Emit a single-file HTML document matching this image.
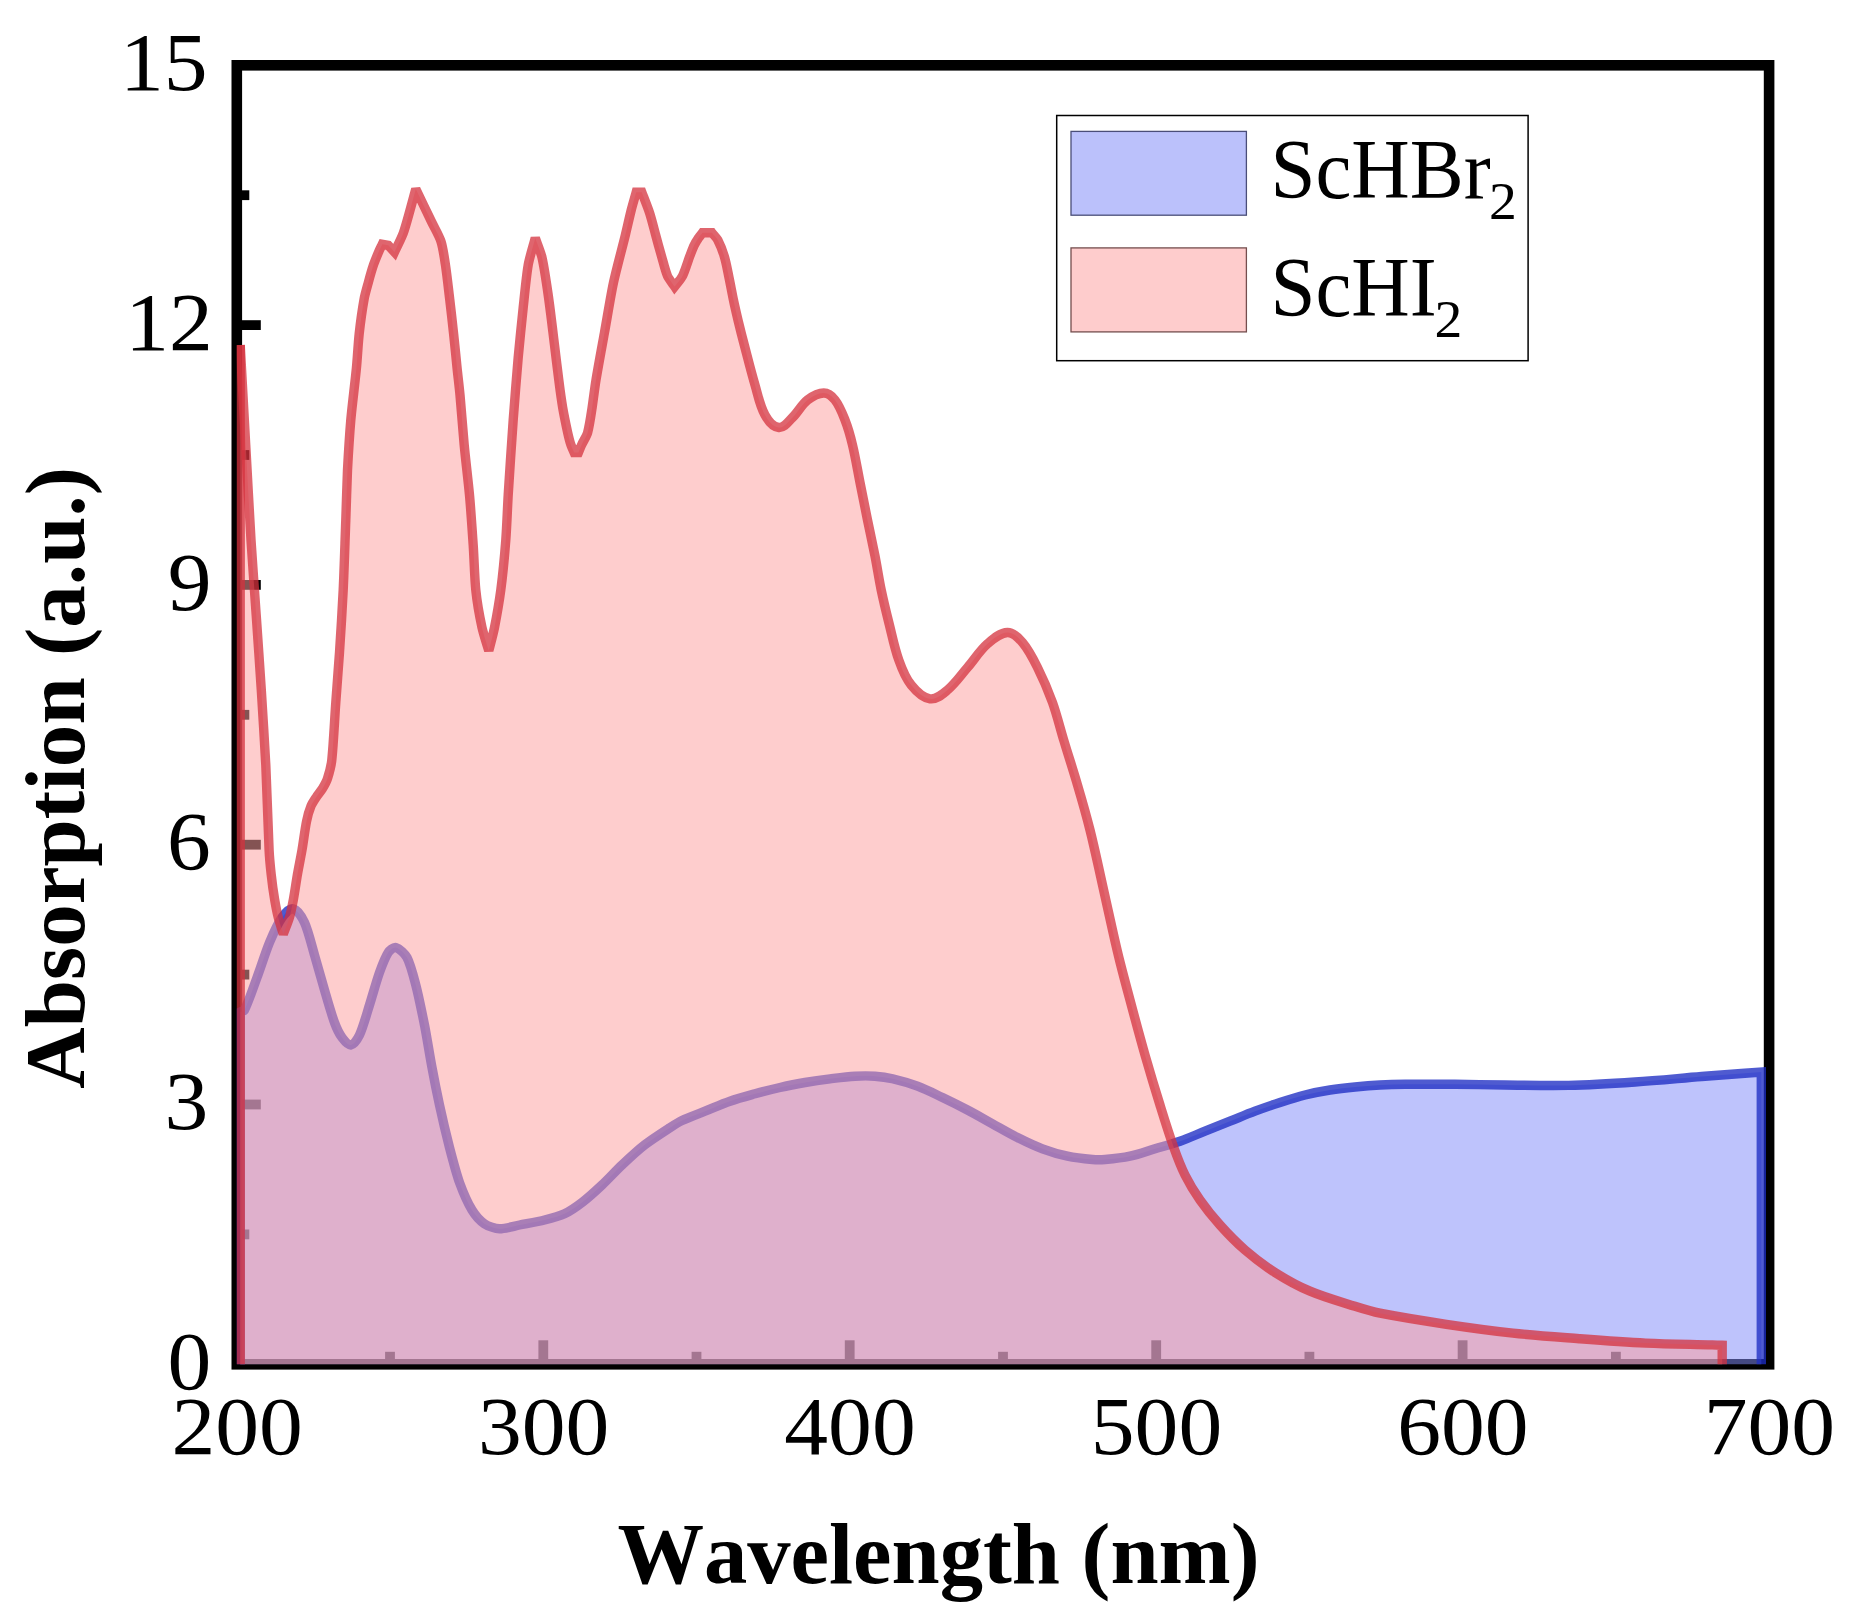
<!DOCTYPE html>
<html lang="en">
<head>
<meta charset="utf-8">
<title>Absorption spectra of ScHBr2 and ScHI2</title>
<style>
html,body{margin:0;padding:0;background:#fff;}
body{width:1851px;height:1624px;overflow:hidden;}
svg{display:block;}
text{font-family:"Liberation Serif","Times New Roman",Times,serif;fill:#000;font-kerning:none;}
.tl text{font-size:83.4px;}
.ttl{font-weight:bold;font-size:86px;}
.lg{font-size:84.3px;}
.sub{font-size:52px;}
</style>
</head>
<body>
<svg width="1851" height="1624" viewBox="0 0 1851 1624">
<defs>
<clipPath id="plot"><rect x="236.8" y="65.3" width="1532.5" height="1299.6"/></clipPath>
</defs>
<rect width="1851" height="1624" fill="#fff"/>
<!-- frame and ticks -->
<rect x="236.8" y="65.3" width="1532.3" height="1299.0" fill="none" stroke="#000" stroke-width="10.6"/>
<g stroke="#000" stroke-width="9.8">
<line x1="236.8" y1="1234.4" x2="249.3" y2="1234.4"/>
<line x1="236.8" y1="1104.5" x2="260.8" y2="1104.5"/>
<line x1="236.8" y1="974.6" x2="249.3" y2="974.6"/>
<line x1="236.8" y1="844.7" x2="260.8" y2="844.7"/>
<line x1="236.8" y1="714.8" x2="249.3" y2="714.8"/>
<line x1="236.8" y1="584.9" x2="260.8" y2="584.9"/>
<line x1="236.8" y1="455.0" x2="249.3" y2="455.0"/>
<line x1="236.8" y1="325.1" x2="260.8" y2="325.1"/>
<line x1="236.8" y1="195.2" x2="249.3" y2="195.2"/>
<line x1="390.0" y1="1364.3" x2="390.0" y2="1351.8"/>
<line x1="543.3" y1="1364.3" x2="543.3" y2="1340.3"/>
<line x1="696.5" y1="1364.3" x2="696.5" y2="1351.8"/>
<line x1="849.7" y1="1364.3" x2="849.7" y2="1340.3"/>
<line x1="1003.0" y1="1364.3" x2="1003.0" y2="1351.8"/>
<line x1="1156.2" y1="1364.3" x2="1156.2" y2="1340.3"/>
<line x1="1309.4" y1="1364.3" x2="1309.4" y2="1351.8"/>
<line x1="1462.6" y1="1364.3" x2="1462.6" y2="1340.3"/>
<line x1="1615.9" y1="1364.3" x2="1615.9" y2="1351.8"/>
</g>
<!-- data -->
<g clip-path="url(#plot)">
<path d="M240.2 1364.3 L240.2 1012.0 C241.3 1011.5 244.0 1011.1 244.5 1010.0 C248.5 1001.9 253.9 986.0 257.0 977.5 C260.4 968.4 265.8 951.4 269.5 942.5 C272.3 935.8 277.8 923.4 282.0 917.5 C284.1 914.5 289.6 908.0 293.2 908.8 C297.7 909.8 302.6 918.3 304.5 922.5 C308.2 930.5 312.0 946.5 314.5 955.0 C317.2 964.1 321.8 980.9 324.5 990.0 C327.0 998.5 331.4 1014.2 334.5 1022.5 C336.0 1026.6 339.4 1034.0 342.0 1037.5 C343.8 1039.9 347.8 1045.4 350.8 1045.0 C354.2 1044.5 358.0 1038.1 359.5 1035.0 C363.0 1027.6 367.0 1012.8 369.5 1005.0 C372.2 996.6 376.5 980.8 379.5 972.5 C381.4 967.2 385.1 957.3 388.2 952.5 C389.5 950.5 393.5 946.9 395.8 947.5 C399.6 948.5 405.2 954.1 407.0 957.5 C410.5 964.1 413.9 977.7 415.8 985.0 C418.5 995.3 422.4 1014.6 424.5 1025.0 C426.7 1036.0 429.9 1056.5 432.0 1067.5 C433.8 1077.3 437.4 1095.3 439.5 1105.0 C441.9 1116.1 446.7 1136.5 449.5 1147.5 C451.9 1156.7 456.3 1173.6 459.5 1182.5 C462.2 1189.9 467.9 1203.3 472.0 1210.0 C474.5 1214.1 480.5 1221.1 484.5 1223.8 C487.9 1226.1 495.4 1228.7 499.5 1228.8 C504.8 1229.0 514.3 1226.0 519.5 1225.0 C526.0 1223.7 538.1 1221.6 544.5 1220.0 C549.8 1218.7 559.6 1216.1 564.5 1213.8 C569.4 1211.5 577.7 1205.8 582.0 1202.5 C587.5 1198.3 597.0 1189.7 602.0 1185.0 C607.4 1180.0 616.6 1170.0 622.0 1165.0 C627.7 1159.6 638.3 1149.8 644.5 1145.0 C650.7 1140.2 662.9 1132.3 669.5 1128.0 C672.7 1125.9 678.6 1122.1 682.0 1120.5 C687.8 1117.7 699.0 1113.6 705.0 1111.2 C713.3 1107.9 721.5 1104.1 730.0 1101.2 C738.2 1098.3 746.6 1096.1 755.0 1093.8 C763.3 1091.5 771.6 1089.4 780.0 1087.5 C788.3 1085.6 796.6 1084.0 805.0 1082.5 C813.3 1081.1 821.6 1079.9 830.0 1078.8 C838.3 1077.8 846.6 1076.7 855.0 1076.2 C861.7 1075.8 868.3 1075.7 875.0 1076.2 C880.9 1076.6 886.8 1077.4 892.5 1078.8 C901.0 1080.8 909.4 1083.2 917.5 1086.2 C926.1 1089.4 934.2 1093.6 942.5 1097.5 C950.9 1101.5 959.3 1105.7 967.5 1110.0 C975.9 1114.4 984.2 1119.2 992.5 1123.8 C1000.8 1128.4 1009.0 1133.3 1017.5 1137.5 C1025.7 1141.6 1033.9 1145.6 1042.5 1148.8 C1050.6 1151.8 1059.0 1154.4 1067.5 1156.2 C1075.7 1158.0 1084.1 1158.8 1092.5 1159.5 C1096.7 1159.9 1100.8 1159.9 1105.0 1159.5 C1113.4 1158.8 1121.8 1158.0 1130.0 1156.2 C1138.5 1154.4 1146.7 1151.3 1155.0 1148.8 C1163.3 1146.3 1171.8 1144.1 1180.0 1141.2 C1188.5 1138.2 1196.7 1134.5 1205.0 1131.2 C1213.3 1127.9 1221.7 1124.5 1230.0 1121.2 C1238.3 1117.9 1246.6 1114.3 1255.0 1111.2 C1263.3 1108.1 1271.6 1105.2 1280.0 1102.5 C1288.3 1099.8 1296.6 1097.1 1305.0 1095.0 C1313.2 1092.9 1321.6 1091.3 1330.0 1090.0 C1338.3 1088.7 1346.6 1087.8 1355.0 1087.0 C1363.3 1086.2 1371.7 1085.5 1380.0 1085.0 C1388.3 1084.6 1396.7 1084.4 1405.0 1084.3 C1421.7 1084.1 1438.3 1084.2 1455.0 1084.3 C1471.7 1084.4 1488.3 1084.8 1505.0 1085.0 C1526.2 1085.2 1547.5 1085.9 1568.7 1085.4 C1590.8 1084.9 1612.9 1083.5 1635.0 1082.0 C1657.2 1080.5 1679.4 1078.3 1701.6 1076.5 C1721.5 1074.9 1741.4 1073.5 1761.3 1072.0 L1761.3 1364.3 Z" fill="rgba(130,140,249,0.52)"/>
<path d="M240.2 1364.3 L240.2 1012.0 C241.3 1011.5 244.0 1011.1 244.5 1010.0 C248.5 1001.9 253.9 986.0 257.0 977.5 C260.4 968.4 265.8 951.4 269.5 942.5 C272.3 935.8 277.8 923.4 282.0 917.5 C284.1 914.5 289.6 908.0 293.2 908.8 C297.7 909.8 302.6 918.3 304.5 922.5 C308.2 930.5 312.0 946.5 314.5 955.0 C317.2 964.1 321.8 980.9 324.5 990.0 C327.0 998.5 331.4 1014.2 334.5 1022.5 C336.0 1026.6 339.4 1034.0 342.0 1037.5 C343.8 1039.9 347.8 1045.4 350.8 1045.0 C354.2 1044.5 358.0 1038.1 359.5 1035.0 C363.0 1027.6 367.0 1012.8 369.5 1005.0 C372.2 996.6 376.5 980.8 379.5 972.5 C381.4 967.2 385.1 957.3 388.2 952.5 C389.5 950.5 393.5 946.9 395.8 947.5 C399.6 948.5 405.2 954.1 407.0 957.5 C410.5 964.1 413.9 977.7 415.8 985.0 C418.5 995.3 422.4 1014.6 424.5 1025.0 C426.7 1036.0 429.9 1056.5 432.0 1067.5 C433.8 1077.3 437.4 1095.3 439.5 1105.0 C441.9 1116.1 446.7 1136.5 449.5 1147.5 C451.9 1156.7 456.3 1173.6 459.5 1182.5 C462.2 1189.9 467.9 1203.3 472.0 1210.0 C474.5 1214.1 480.5 1221.1 484.5 1223.8 C487.9 1226.1 495.4 1228.7 499.5 1228.8 C504.8 1229.0 514.3 1226.0 519.5 1225.0 C526.0 1223.7 538.1 1221.6 544.5 1220.0 C549.8 1218.7 559.6 1216.1 564.5 1213.8 C569.4 1211.5 577.7 1205.8 582.0 1202.5 C587.5 1198.3 597.0 1189.7 602.0 1185.0 C607.4 1180.0 616.6 1170.0 622.0 1165.0 C627.7 1159.6 638.3 1149.8 644.5 1145.0 C650.7 1140.2 662.9 1132.3 669.5 1128.0 C672.7 1125.9 678.6 1122.1 682.0 1120.5 C687.8 1117.7 699.0 1113.6 705.0 1111.2 C713.3 1107.9 721.5 1104.1 730.0 1101.2 C738.2 1098.3 746.6 1096.1 755.0 1093.8 C763.3 1091.5 771.6 1089.4 780.0 1087.5 C788.3 1085.6 796.6 1084.0 805.0 1082.5 C813.3 1081.1 821.6 1079.9 830.0 1078.8 C838.3 1077.8 846.6 1076.7 855.0 1076.2 C861.7 1075.8 868.3 1075.7 875.0 1076.2 C880.9 1076.6 886.8 1077.4 892.5 1078.8 C901.0 1080.8 909.4 1083.2 917.5 1086.2 C926.1 1089.4 934.2 1093.6 942.5 1097.5 C950.9 1101.5 959.3 1105.7 967.5 1110.0 C975.9 1114.4 984.2 1119.2 992.5 1123.8 C1000.8 1128.4 1009.0 1133.3 1017.5 1137.5 C1025.7 1141.6 1033.9 1145.6 1042.5 1148.8 C1050.6 1151.8 1059.0 1154.4 1067.5 1156.2 C1075.7 1158.0 1084.1 1158.8 1092.5 1159.5 C1096.7 1159.9 1100.8 1159.9 1105.0 1159.5 C1113.4 1158.8 1121.8 1158.0 1130.0 1156.2 C1138.5 1154.4 1146.7 1151.3 1155.0 1148.8 C1163.3 1146.3 1171.8 1144.1 1180.0 1141.2 C1188.5 1138.2 1196.7 1134.5 1205.0 1131.2 C1213.3 1127.9 1221.7 1124.5 1230.0 1121.2 C1238.3 1117.9 1246.6 1114.3 1255.0 1111.2 C1263.3 1108.1 1271.6 1105.2 1280.0 1102.5 C1288.3 1099.8 1296.6 1097.1 1305.0 1095.0 C1313.2 1092.9 1321.6 1091.3 1330.0 1090.0 C1338.3 1088.7 1346.6 1087.8 1355.0 1087.0 C1363.3 1086.2 1371.7 1085.5 1380.0 1085.0 C1388.3 1084.6 1396.7 1084.4 1405.0 1084.3 C1421.7 1084.1 1438.3 1084.2 1455.0 1084.3 C1471.7 1084.4 1488.3 1084.8 1505.0 1085.0 C1526.2 1085.2 1547.5 1085.9 1568.7 1085.4 C1590.8 1084.9 1612.9 1083.5 1635.0 1082.0 C1657.2 1080.5 1679.4 1078.3 1701.6 1076.5 C1721.5 1074.9 1741.4 1073.5 1761.3 1072.0 L1761.3 1364.3" fill="none" stroke="rgba(30,45,195,0.78)" stroke-width="9.4" stroke-linejoin="miter" stroke-miterlimit="2.2"/>
<path d="M240.2 1364.3 L240.2 345.0 C241.7 372.3 244.5 422.7 246.0 450.0 C247.3 473.4 249.6 516.6 251.0 540.0 C252.2 559.5 254.9 595.5 256.2 615.0 C257.5 634.5 260.1 670.5 261.3 690.0 C262.5 709.5 264.8 745.5 265.8 765.0 C266.9 787.1 268.0 827.9 269.1 850.0 C269.4 856.4 270.5 868.2 271.2 874.6 C271.9 881.0 273.5 892.9 274.6 899.3 C275.4 904.1 277.1 913.0 278.3 917.7 C279.4 922.0 282.0 929.8 283.3 934.0 C284.9 929.8 288.1 922.0 289.4 917.7 C290.8 913.0 292.5 904.1 293.4 899.3 C294.6 892.9 296.3 881.0 297.4 874.6 C298.5 868.2 300.9 856.4 302.0 850.0 C303.3 842.6 305.0 828.9 306.5 821.6 C307.3 817.5 309.4 809.9 311.0 806.0 C312.0 803.5 314.9 799.3 316.4 797.0 C317.9 794.7 321.1 790.8 322.5 788.5 C324.0 786.0 326.6 781.3 327.5 778.5 C329.0 773.8 331.3 764.9 331.8 760.0 C333.4 745.1 334.7 717.4 335.8 702.5 C336.7 689.5 338.6 665.5 339.5 652.5 C340.6 636.3 342.4 606.3 343.2 590.0 C344.1 571.8 345.1 538.2 345.8 520.0 C346.3 507.0 346.9 483.0 347.5 470.0 C348.2 457.0 349.7 433.0 350.8 420.0 C352.0 406.5 355.1 381.8 356.4 368.3 C357.3 359.3 358.2 342.7 359.2 333.7 C360.2 324.7 362.5 308.0 364.1 299.1 C364.9 294.6 367.3 286.4 368.5 281.9 C369.7 277.4 372.1 269.0 373.6 264.6 C374.8 261.2 377.4 254.9 378.8 251.6 C379.6 249.7 381.4 246.2 382.3 244.3 L388.3 245.3 L394.5 252.1 C396.8 247.0 401.7 237.8 403.5 232.5 C407.3 221.4 412.6 200.3 415.8 189.0 C419.9 197.6 427.5 213.3 431.6 221.9 C434.0 227.0 439.3 236.1 441.0 241.5 C442.9 247.3 444.5 258.6 445.4 264.6 C446.8 273.5 448.6 290.1 449.7 299.1 C450.8 308.1 452.6 324.7 453.6 333.7 C454.6 342.7 456.2 359.3 457.1 368.3 C457.8 375.2 459.4 388.0 460.0 395.0 C461.2 408.0 463.0 432.0 464.2 445.0 C465.4 458.0 468.3 482.0 469.5 495.0 C470.7 508.0 472.3 532.0 473.2 545.0 C474.0 556.7 474.6 578.3 475.8 590.0 C476.8 599.8 479.9 617.8 482.0 627.5 C483.3 633.6 487.0 644.7 488.8 650.7 C490.3 644.7 493.3 633.6 494.5 627.5 C496.4 617.8 499.5 599.8 500.8 590.0 C502.5 577.0 504.8 553.0 505.8 540.0 C506.7 528.3 507.5 506.7 508.2 495.0 C509.4 475.5 511.8 439.5 513.2 420.0 C514.4 403.7 516.8 373.7 518.2 357.5 C519.4 344.5 521.8 320.5 523.2 307.5 C524.4 296.4 526.3 276.0 528.2 265.0 C529.4 257.8 533.5 245.0 535.3 238.0 C537.0 243.1 540.8 252.3 542.0 257.5 C544.2 267.1 546.8 285.2 548.2 295.0 C550.1 308.0 552.9 332.0 554.5 345.0 C555.6 354.1 557.6 370.9 558.8 380.0 C559.7 387.2 561.5 400.5 562.7 407.7 C563.8 414.2 566.3 426.2 567.7 432.7 C568.4 435.8 569.8 441.5 570.8 444.5 C571.5 446.7 573.3 450.5 574.2 452.6 L578.4 452.6 C579.3 450.5 580.8 446.6 581.8 444.5 C583.2 441.4 586.7 436.0 587.6 432.7 C589.4 426.3 591.1 414.2 592.1 407.7 C593.2 400.5 594.8 387.2 596.0 380.0 C598.0 367.8 602.2 345.2 604.4 333.0 C606.8 319.9 610.7 295.5 613.5 282.5 C616.2 270.0 622.4 247.2 625.4 234.8 C627.0 228.1 629.8 215.7 631.5 209.0 C632.6 204.6 635.0 196.6 636.2 192.2 L641.8 192.2 C643.9 197.7 647.9 207.7 649.7 213.2 C651.5 218.7 654.1 229.2 655.6 234.8 C657.1 240.4 660.0 250.8 661.6 256.4 C663.1 261.5 665.4 271.1 667.5 276.0 C668.8 279.0 672.8 283.8 674.6 286.5 C676.7 283.8 681.0 279.1 682.5 276.0 C684.9 271.1 687.8 261.5 689.7 256.4 C690.8 253.6 692.7 248.3 694.0 245.6 C695.0 243.5 697.2 239.9 698.5 238.0 C699.4 236.6 701.5 234.2 702.5 232.8 L712.0 232.8 C713.5 234.7 716.7 237.9 717.8 240.0 C719.9 244.1 723.0 252.0 724.3 256.4 C726.4 263.5 727.6 270.8 729.1 278.0 C730.6 285.2 731.9 292.5 733.4 299.7 C734.9 306.9 736.6 314.1 738.3 321.3 C740.2 329.2 742.2 337.1 744.3 345.0 C747.8 358.4 751.1 371.8 755.0 385.0 C758.0 395.1 759.8 405.8 765.0 415.0 C768.0 420.4 772.6 426.9 778.8 427.5 C784.4 428.0 788.4 421.4 792.5 417.5 C798.0 412.2 801.5 404.7 807.5 400.0 C812.2 396.4 817.9 393.0 823.8 393.0 C828.2 393.0 832.3 396.5 835.0 400.0 C839.6 405.9 842.3 413.1 845.0 420.0 C848.2 428.1 850.5 436.5 852.5 445.0 C855.5 457.4 857.5 470.0 860.0 482.5 C862.5 495.0 865.0 507.5 867.5 520.0 C870.0 532.0 872.6 544.0 875.0 556.0 C877.2 567.3 878.9 578.7 881.2 590.0 C883.5 600.9 886.1 611.7 888.8 622.5 C892.0 635.0 894.4 647.8 898.8 660.0 C901.9 668.8 905.4 677.8 911.2 685.0 C916.1 691.1 922.3 697.7 930.0 698.8 C936.5 699.7 942.5 694.2 947.5 690.0 C955.2 683.6 960.9 675.1 967.5 667.5 C974.3 659.7 979.7 650.6 987.5 643.8 C993.3 638.8 999.8 632.8 1007.5 632.5 C1013.5 632.3 1018.6 637.9 1022.5 642.5 C1028.8 649.9 1033.2 658.8 1037.5 667.5 C1043.2 678.9 1048.2 690.6 1052.5 702.5 C1057.0 715.1 1060.1 728.2 1064.0 741.0 C1068.4 755.7 1073.2 770.3 1077.5 785.0 C1081.9 799.9 1086.2 814.9 1090.0 830.0 C1094.6 848.2 1098.4 866.7 1102.5 885.0 C1105.9 900.0 1109.1 915.0 1112.5 930.0 C1114.9 940.7 1117.3 951.4 1120.0 962.0 C1123.2 974.7 1126.6 987.4 1130.0 1000.0 C1134.9 1018.4 1139.8 1036.7 1145.0 1055.0 C1149.8 1071.7 1154.8 1088.4 1160.0 1105.0 C1164.4 1119.2 1168.8 1133.5 1173.8 1147.5 C1177.1 1156.8 1180.6 1166.1 1185.0 1175.0 C1189.3 1183.7 1194.4 1192.0 1200.0 1200.0 C1206.1 1208.7 1212.9 1217.1 1220.0 1225.0 C1227.9 1233.8 1236.1 1242.3 1245.0 1250.0 C1254.5 1258.2 1264.4 1265.8 1275.0 1272.5 C1286.2 1279.6 1297.8 1286.1 1310.0 1291.2 C1324.6 1297.4 1339.9 1301.6 1355.0 1306.3 C1363.2 1308.9 1371.5 1311.5 1380.0 1313.2 C1402.0 1317.5 1424.2 1321.0 1446.4 1324.3 C1468.5 1327.6 1490.7 1330.7 1512.9 1333.1 C1535.0 1335.5 1557.2 1337.0 1579.3 1338.7 C1601.5 1340.4 1623.6 1342.1 1645.8 1343.1 C1667.9 1344.1 1690.1 1344.3 1712.2 1344.9 C1715.5 1345.0 1718.9 1345.2 1722.2 1345.3 L1722.2 1364.3 Z" fill="rgba(253,159,159,0.52)"/>
<path d="M240.2 1364.3 L240.2 345.0" fill="none" stroke="rgba(212,50,62,0.75)" stroke-width="9.4"/>
<path d="M240.2 345.0 C241.7 372.3 244.5 422.7 246.0 450.0 C247.3 473.4 249.6 516.6 251.0 540.0 C252.2 559.5 254.9 595.5 256.2 615.0 C257.5 634.5 260.1 670.5 261.3 690.0 C262.5 709.5 264.8 745.5 265.8 765.0 C266.9 787.1 268.0 827.9 269.1 850.0 C269.4 856.4 270.5 868.2 271.2 874.6 C271.9 881.0 273.5 892.9 274.6 899.3 C275.4 904.1 277.1 913.0 278.3 917.7 C279.4 922.0 282.0 929.8 283.3 934.0 C284.9 929.8 288.1 922.0 289.4 917.7 C290.8 913.0 292.5 904.1 293.4 899.3 C294.6 892.9 296.3 881.0 297.4 874.6 C298.5 868.2 300.9 856.4 302.0 850.0 C303.3 842.6 305.0 828.9 306.5 821.6 C307.3 817.5 309.4 809.9 311.0 806.0 C312.0 803.5 314.9 799.3 316.4 797.0 C317.9 794.7 321.1 790.8 322.5 788.5 C324.0 786.0 326.6 781.3 327.5 778.5 C329.0 773.8 331.3 764.9 331.8 760.0 C333.4 745.1 334.7 717.4 335.8 702.5 C336.7 689.5 338.6 665.5 339.5 652.5 C340.6 636.3 342.4 606.3 343.2 590.0 C344.1 571.8 345.1 538.2 345.8 520.0 C346.3 507.0 346.9 483.0 347.5 470.0 C348.2 457.0 349.7 433.0 350.8 420.0 C352.0 406.5 355.1 381.8 356.4 368.3 C357.3 359.3 358.2 342.7 359.2 333.7 C360.2 324.7 362.5 308.0 364.1 299.1 C364.9 294.6 367.3 286.4 368.5 281.9 C369.7 277.4 372.1 269.0 373.6 264.6 C374.8 261.2 377.4 254.9 378.8 251.6 C379.6 249.7 381.4 246.2 382.3 244.3 L388.3 245.3 L394.5 252.1 C396.8 247.0 401.7 237.8 403.5 232.5 C407.3 221.4 412.6 200.3 415.8 189.0 C419.9 197.6 427.5 213.3 431.6 221.9 C434.0 227.0 439.3 236.1 441.0 241.5 C442.9 247.3 444.5 258.6 445.4 264.6 C446.8 273.5 448.6 290.1 449.7 299.1 C450.8 308.1 452.6 324.7 453.6 333.7 C454.6 342.7 456.2 359.3 457.1 368.3 C457.8 375.2 459.4 388.0 460.0 395.0 C461.2 408.0 463.0 432.0 464.2 445.0 C465.4 458.0 468.3 482.0 469.5 495.0 C470.7 508.0 472.3 532.0 473.2 545.0 C474.0 556.7 474.6 578.3 475.8 590.0 C476.8 599.8 479.9 617.8 482.0 627.5 C483.3 633.6 487.0 644.7 488.8 650.7 C490.3 644.7 493.3 633.6 494.5 627.5 C496.4 617.8 499.5 599.8 500.8 590.0 C502.5 577.0 504.8 553.0 505.8 540.0 C506.7 528.3 507.5 506.7 508.2 495.0 C509.4 475.5 511.8 439.5 513.2 420.0 C514.4 403.7 516.8 373.7 518.2 357.5 C519.4 344.5 521.8 320.5 523.2 307.5 C524.4 296.4 526.3 276.0 528.2 265.0 C529.4 257.8 533.5 245.0 535.3 238.0 C537.0 243.1 540.8 252.3 542.0 257.5 C544.2 267.1 546.8 285.2 548.2 295.0 C550.1 308.0 552.9 332.0 554.5 345.0 C555.6 354.1 557.6 370.9 558.8 380.0 C559.7 387.2 561.5 400.5 562.7 407.7 C563.8 414.2 566.3 426.2 567.7 432.7 C568.4 435.8 569.8 441.5 570.8 444.5 C571.5 446.7 573.3 450.5 574.2 452.6 L578.4 452.6 C579.3 450.5 580.8 446.6 581.8 444.5 C583.2 441.4 586.7 436.0 587.6 432.7 C589.4 426.3 591.1 414.2 592.1 407.7 C593.2 400.5 594.8 387.2 596.0 380.0 C598.0 367.8 602.2 345.2 604.4 333.0 C606.8 319.9 610.7 295.5 613.5 282.5 C616.2 270.0 622.4 247.2 625.4 234.8 C627.0 228.1 629.8 215.7 631.5 209.0 C632.6 204.6 635.0 196.6 636.2 192.2 L641.8 192.2 C643.9 197.7 647.9 207.7 649.7 213.2 C651.5 218.7 654.1 229.2 655.6 234.8 C657.1 240.4 660.0 250.8 661.6 256.4 C663.1 261.5 665.4 271.1 667.5 276.0 C668.8 279.0 672.8 283.8 674.6 286.5 C676.7 283.8 681.0 279.1 682.5 276.0 C684.9 271.1 687.8 261.5 689.7 256.4 C690.8 253.6 692.7 248.3 694.0 245.6 C695.0 243.5 697.2 239.9 698.5 238.0 C699.4 236.6 701.5 234.2 702.5 232.8 L712.0 232.8 C713.5 234.7 716.7 237.9 717.8 240.0 C719.9 244.1 723.0 252.0 724.3 256.4 C726.4 263.5 727.6 270.8 729.1 278.0 C730.6 285.2 731.9 292.5 733.4 299.7 C734.9 306.9 736.6 314.1 738.3 321.3 C740.2 329.2 742.2 337.1 744.3 345.0 C747.8 358.4 751.1 371.8 755.0 385.0 C758.0 395.1 759.8 405.8 765.0 415.0 C768.0 420.4 772.6 426.9 778.8 427.5 C784.4 428.0 788.4 421.4 792.5 417.5 C798.0 412.2 801.5 404.7 807.5 400.0 C812.2 396.4 817.9 393.0 823.8 393.0 C828.2 393.0 832.3 396.5 835.0 400.0 C839.6 405.9 842.3 413.1 845.0 420.0 C848.2 428.1 850.5 436.5 852.5 445.0 C855.5 457.4 857.5 470.0 860.0 482.5 C862.5 495.0 865.0 507.5 867.5 520.0 C870.0 532.0 872.6 544.0 875.0 556.0 C877.2 567.3 878.9 578.7 881.2 590.0 C883.5 600.9 886.1 611.7 888.8 622.5 C892.0 635.0 894.4 647.8 898.8 660.0 C901.9 668.8 905.4 677.8 911.2 685.0 C916.1 691.1 922.3 697.7 930.0 698.8 C936.5 699.7 942.5 694.2 947.5 690.0 C955.2 683.6 960.9 675.1 967.5 667.5 C974.3 659.7 979.7 650.6 987.5 643.8 C993.3 638.8 999.8 632.8 1007.5 632.5 C1013.5 632.3 1018.6 637.9 1022.5 642.5 C1028.8 649.9 1033.2 658.8 1037.5 667.5 C1043.2 678.9 1048.2 690.6 1052.5 702.5 C1057.0 715.1 1060.1 728.2 1064.0 741.0 C1068.4 755.7 1073.2 770.3 1077.5 785.0 C1081.9 799.9 1086.2 814.9 1090.0 830.0 C1094.6 848.2 1098.4 866.7 1102.5 885.0 C1105.9 900.0 1109.1 915.0 1112.5 930.0 C1114.9 940.7 1117.3 951.4 1120.0 962.0 C1123.2 974.7 1126.6 987.4 1130.0 1000.0 C1134.9 1018.4 1139.8 1036.7 1145.0 1055.0 C1149.8 1071.7 1154.8 1088.4 1160.0 1105.0 C1164.4 1119.2 1168.8 1133.5 1173.8 1147.5 C1177.1 1156.8 1180.6 1166.1 1185.0 1175.0 C1189.3 1183.7 1194.4 1192.0 1200.0 1200.0 C1206.1 1208.7 1212.9 1217.1 1220.0 1225.0 C1227.9 1233.8 1236.1 1242.3 1245.0 1250.0 C1254.5 1258.2 1264.4 1265.8 1275.0 1272.5 C1286.2 1279.6 1297.8 1286.1 1310.0 1291.2 C1324.6 1297.4 1339.9 1301.6 1355.0 1306.3 C1363.2 1308.9 1371.5 1311.5 1380.0 1313.2 C1402.0 1317.5 1424.2 1321.0 1446.4 1324.3 C1468.5 1327.6 1490.7 1330.7 1512.9 1333.1 C1535.0 1335.5 1557.2 1337.0 1579.3 1338.7 C1601.5 1340.4 1623.6 1342.1 1645.8 1343.1 C1667.9 1344.1 1690.1 1344.3 1712.2 1344.9 C1715.5 1345.0 1718.9 1345.2 1722.2 1345.3 L1722.2 1364.3" fill="none" stroke="rgba(212,50,62,0.75)" stroke-width="9.4" stroke-linejoin="miter" stroke-miterlimit="2.2"/>
</g>
<!-- tick labels -->
<g class="tl">
<text transform="translate(211.3,1389.0) scale(1.050,1)" text-anchor="end">0</text>
<text transform="translate(208.4,1129.2) scale(1.050,1)" text-anchor="end">3</text>
<text transform="translate(210.7,869.4) scale(1.050,1)" text-anchor="end">6</text>
<text transform="translate(211.6,609.6) scale(1.050,1)" text-anchor="end">9</text>
<text transform="translate(212.9,349.8) scale(1.050,1)" text-anchor="end">12</text>
<text transform="translate(207.6,90.0) scale(1.050,1)" text-anchor="end">15</text>
<text transform="translate(237.1,1454.4) scale(1.050,1)" text-anchor="middle">200</text>
<text transform="translate(543.6,1454.4) scale(1.050,1)" text-anchor="middle">300</text>
<text transform="translate(850.0,1454.4) scale(1.050,1)" text-anchor="middle">400</text>
<text transform="translate(1156.5,1454.4) scale(1.050,1)" text-anchor="middle">500</text>
<text transform="translate(1462.9,1454.4) scale(1.050,1)" text-anchor="middle">600</text>
<text transform="translate(1769.4,1454.4) scale(1.050,1)" text-anchor="middle">700</text>
</g>
<!-- axis titles -->
<text class="ttl" style="font-size:86.6px" x="938.5" y="1582.9" text-anchor="middle">Wavelength (nm)</text>
<text class="ttl" style="font-size:85.1px" transform="translate(83.8,777.8) rotate(-90)" text-anchor="middle">Absorption (a.u.)</text>
<!-- legend -->
<rect x="1056.7" y="115.5" width="471.4" height="245.2" fill="#fff" stroke="#000" stroke-width="1.5"/>
<rect x="1071" y="131.4" width="175.4" height="83.8" fill="rgb(187,193,251)" stroke="rgb(74,78,120)" stroke-width="1.3"/>
<rect x="1071" y="247.9" width="175.4" height="84" fill="rgb(254,204,204)" stroke="rgb(116,78,78)" stroke-width="1.3"/>
<text class="lg" transform="translate(1270.4,198.3) scale(0.96,1)">ScHBr</text>
<text class="sub" transform="translate(1488.9,219) scale(1.07,1)">2</text>
<text class="lg" transform="translate(1270.4,316.4) scale(0.96,1)">ScHI</text>
<text class="sub" transform="translate(1434.6,337.1) scale(1.07,1)">2</text>
</svg>
</body>
</html>
